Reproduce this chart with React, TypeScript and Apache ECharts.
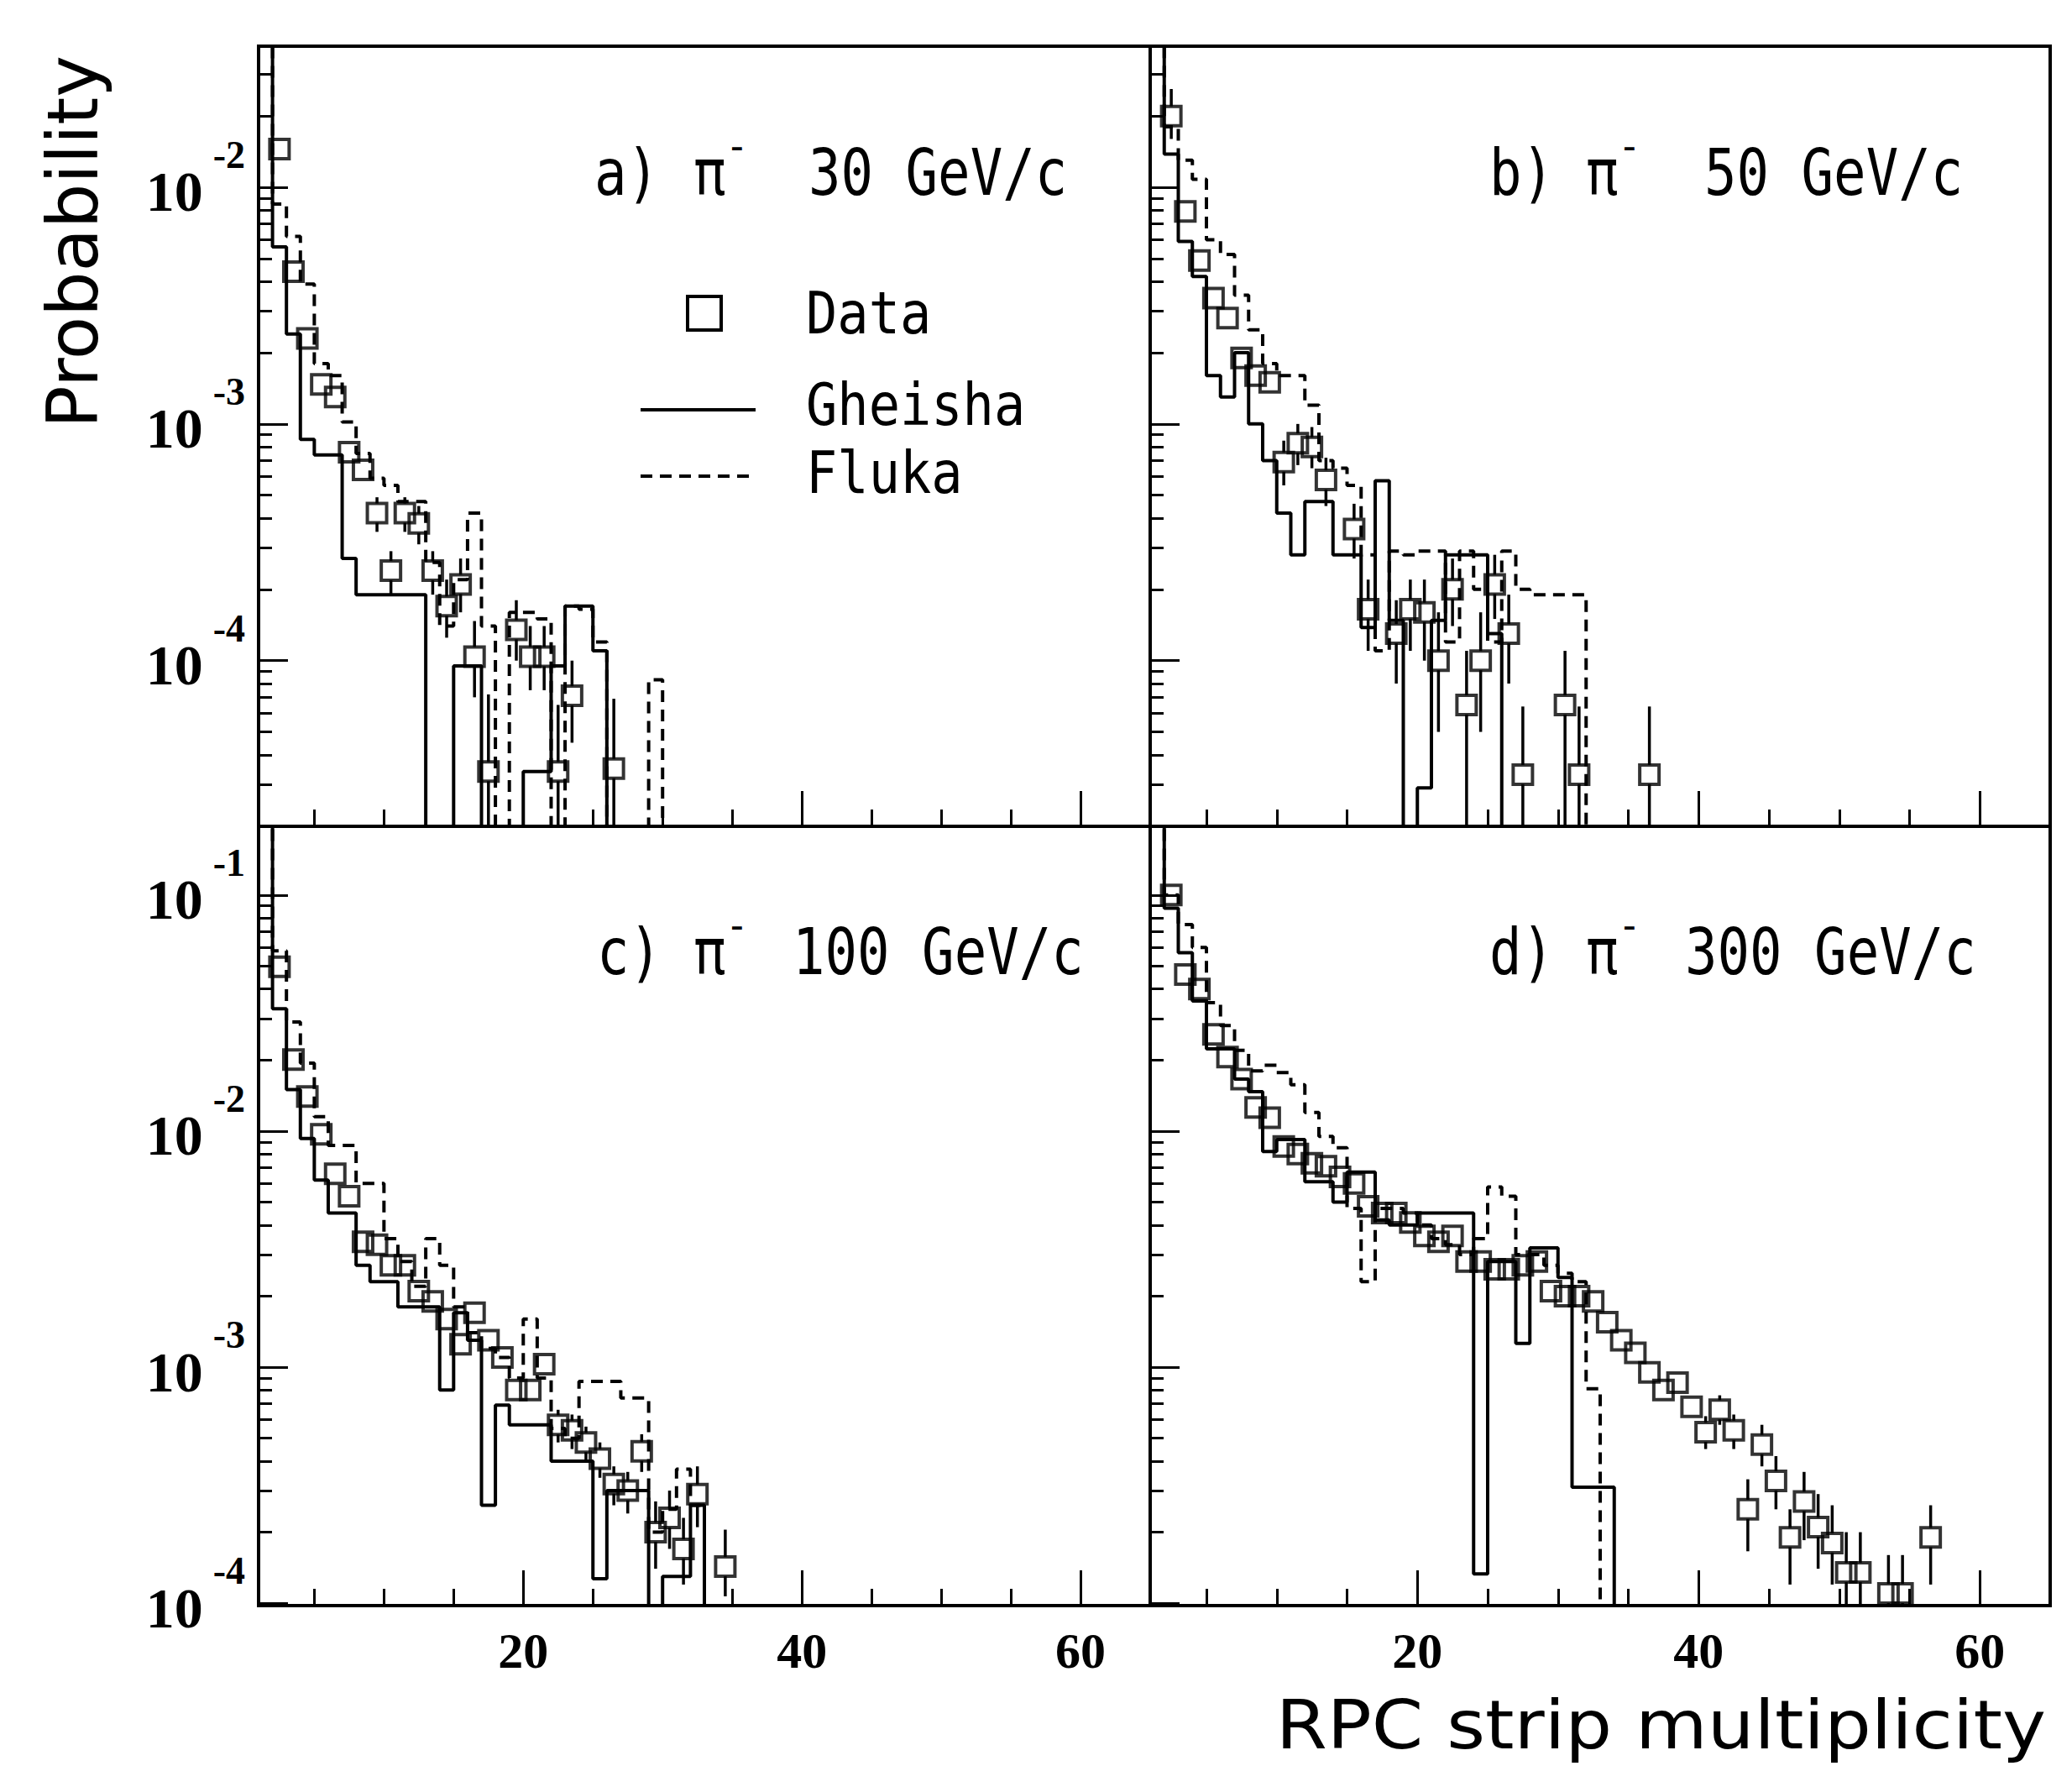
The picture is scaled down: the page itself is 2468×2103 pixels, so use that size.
import React, { useEffect, useRef } from 'react';
import * as echarts from 'echarts';

// ---------------- data (probabilities per multiplicity bin) ----------------
// Histograms: value of bin n (n = 1, 2, ...) spanning [n, n+1]
const GHEISHA_A = [0.06, 0.0056, 0.0024, 0.00086, 0.00074, 0.00074, 0.00027, 0.00019, 0.00019, 0.00019, 0.00019, 0.00019, 0, 0, 0.000095, 0.000095, 0, 0, 0, 0.000034, 0.000034, 0.000095, 0.00017, 0.00017, 0.00011];
const FLUKA_A = [0.05, 0.0085, 0.0062, 0.0039, 0.0018, 0.0016, 0.00102, 0.00075, 0.00059, 0.00055, 0.00047, 0.00047, 0.00026, 0.00014, 0.00022, 0.00042, 0.00014, 0, 0.00016, 0.00016, 0.00015, 0, 0.00017, 0.000165, 0.00012, 0, 0, 0, 0.000083];
const DATA_A_BINS = [2, 3, 4, 5, 6, 7, 8, 9, 10, 11, 12, 13, 14, 15, 16, 17, 19, 20, 21, 22, 23, 26];
const DATA_A_VALS = [0.0145, 0.0044, 0.0023, 0.00147, 0.0013, 0.00076, 0.00064, 0.00042, 0.00024, 0.00042, 0.00038, 0.00024, 0.00017, 0.00021, 0.000104, 0.000034, 0.000135, 0.000104, 0.000104, 0.000034, 0.000071, 0.000035];
const ERR_A_BINS = [9, 10, 11, 12, 13, 14, 15, 16, 17, 19, 20, 21, 22, 23, 26];
const ERR_A_LO = [0.00035, 0.00019, 0.00035, 0.00031, 0.00019, 0.000125, 0.00016, 0.00007, 0, 0.0001, 0.000075, 0.000075, 0, 0.000045, 0];
const ERR_A_HI = [0.00049, 0.00029, 0.00049, 0.00045, 0.00029, 0.00022, 0.00027, 0.000147, 0.000072, 0.00018, 0.00014, 0.00014, 0.000065, 0.0001, 0.000069];

const GHEISHA_B = [0.06, 0.0138, 0.0059, 0.0042, 0.0016, 0.0013, 0.002, 0.001, 0.0007, 0.00042, 0.00028, 0.00047, 0.00047, 0.00028, 0.00028, 0.000138, 0.000575, 0.000148, 0, 0.000029, 0.000148, 0.00028, 0.00028, 0.00028, 0.00013];
const FLUKA_B = [0.05, 0.018, 0.013, 0.0108, 0.006, 0.0052, 0.0035, 0.0025, 0.0018, 0.0016, 0.0016, 0.0012, 0.0007, 0.00065, 0.00055, 0.00028, 0.00011, 0.00029, 0.00028, 0.00029, 0.00029, 0.00012, 0.00029, 0.0002, 0.00012, 0.00029, 0.0002, 0.00019, 0.00019, 0.00019, 0.00019];
const DATA_B_BINS = [2, 3, 4, 5, 6, 7, 8, 9, 10, 11, 12, 13, 15, 16, 18, 19, 20, 21, 22, 23, 24, 25, 26, 27, 30, 31, 36];
const DATA_B_VALS = [0.02, 0.0079, 0.0049, 0.0034, 0.0028, 0.0019, 0.0016, 0.0015, 0.00069, 0.00083, 0.0008, 0.00058, 0.00036, 0.000165, 0.00013, 0.000165, 0.00016, 0.0001, 0.0002, 0.000065, 0.0001, 0.00021, 0.00013, 0.000033, 0.000065, 0.000033, 0.000033];
const ERR_B_BINS = [2, 10, 11, 12, 13, 15, 16, 18, 19, 20, 21, 22, 23, 24, 25, 26, 27, 30, 31, 36];
const ERR_B_LO = [0.016, 0.00055, 0.00067, 0.00065, 0.00045, 0.00027, 0.00011, 0.00008, 0.00011, 0.0001, 0.00005, 0.00014, 0.00002, 0.00005, 0.00015, 0.00008, 0, 0.00002, 0, 0];
const ERR_B_HI = [0.026, 0.00085, 0.001, 0.00097, 0.00072, 0.00046, 0.00022, 0.00018, 0.00022, 0.00022, 0.00016, 0.00027, 0.00011, 0.00016, 0.00028, 0.00019, 0.000064, 0.00011, 0.000064, 0.000064];

const GHEISHA_C = [0.2, 0.033, 0.015, 0.0093, 0.0062, 0.0045, 0.0045, 0.0027, 0.0023, 0.0023, 0.0018, 0.0018, 0.0018, 0.0008, 0.0017, 0.0013, 0.00026, 0.00069, 0.00057, 0.00057, 0.00057, 0.0004, 0.0004, 0.0004, 0.000127, 0.0003, 0.0003, 0.0003, 0, 0.00013, 0.00013, 0.00026];
const FLUKA_C = [0.2, 0.058, 0.029, 0.0194, 0.0115, 0.0087, 0.0087, 0.006, 0.006, 0.0035, 0.0028, 0.0022, 0.0035, 0.0027, 0.0018, 0.0014, 0.0012, 0.0011, 0.0009, 0.0016, 0.0009, 0.00055, 0.0005, 0.00087, 0.00087, 0.00087, 0.00074, 0.00074, 0.0002, 0.00025, 0.00037, 0.00026];
const DATA_C_BINS = [2, 3, 4, 5, 6, 7, 8, 9, 10, 11, 12, 13, 14, 15, 16, 17, 18, 19, 20, 21, 22, 23, 24, 25, 26, 27, 28, 29, 30, 31, 32, 34];
const DATA_C_VALS = [0.0497, 0.0201, 0.014, 0.0097, 0.0066, 0.0053, 0.0034, 0.0033, 0.0027, 0.0027, 0.0021, 0.0019, 0.0016, 0.00125, 0.0017, 0.0013, 0.0011, 0.0008, 0.0008, 0.00103, 0.00057, 0.00054, 0.00048, 0.00041, 0.00032, 0.0003, 0.00044, 0.0002, 0.00023, 0.00017, 0.00029, 0.000143];
const ERR_C_BINS = [22, 23, 24, 25, 26, 27, 28, 29, 30, 31, 32, 34];
const ERR_C_LO = [0.00048, 0.00045, 0.0004, 0.00034, 0.00026, 0.00024, 0.00036, 0.00014, 0.00017, 0.00012, 0.00021, 0.000107];
const ERR_C_HI = [0.00066, 0.00063, 0.00056, 0.00048, 0.00038, 0.00036, 0.00052, 0.00027, 0.0003, 0.00023, 0.00038, 0.000205];

const GHEISHA_D = [0.2, 0.088, 0.057, 0.0356, 0.0223, 0.0223, 0.0166, 0.0147, 0.0082, 0.0092, 0.0092, 0.0061, 0.0061, 0.005, 0.0067, 0.0067, 0.0042, 0.004, 0.004, 0.0045, 0.0045, 0.0045, 0.0045, 0.000133, 0.0028, 0.0028, 0.00126, 0.0032, 0.0032, 0.0024, 0.00031, 0.00031, 0.00031];
const FLUKA_D = [0.2, 0.1, 0.075, 0.06, 0.035, 0.028, 0.022, 0.018, 0.019, 0.0177, 0.0157, 0.012, 0.0095, 0.0085, 0.0047, 0.0023, 0.0047, 0.0047, 0.0045, 0.004, 0.0035, 0.0033, 0.003, 0.0035, 0.0058, 0.0053, 0.003, 0.003, 0.0027, 0.0025, 0.0023, 0.00081];
const DATA_D_BINS = [2, 3, 4, 5, 6, 7, 8, 9, 10, 11, 12, 13, 14, 15, 16, 17, 18, 19, 20, 21, 22, 23, 24, 25, 26, 27, 28, 29, 30, 31, 32, 33, 34, 35, 36, 37, 38, 39, 40, 41, 42, 43, 44, 45, 46, 47, 48, 49, 50, 51, 53, 54, 56];
const DATA_D_VALS = [0.1, 0.046, 0.04, 0.0257, 0.0206, 0.0166, 0.0126, 0.0114, 0.0086, 0.008, 0.0073, 0.0071, 0.0064, 0.006, 0.0048, 0.0045, 0.0045, 0.0041, 0.0036, 0.0034, 0.0036, 0.0028, 0.0028, 0.0026, 0.0026, 0.0027, 0.0028, 0.0021, 0.002, 0.002, 0.0019, 0.00155, 0.0013, 0.00115, 0.00095, 0.0008, 0.00086, 0.00068, 0.00053, 0.00066, 0.00054, 0.00025, 0.00047, 0.00033, 0.00019, 0.00027, 0.00021, 0.00018, 0.000135, 0.000135, 0.00011, 0.00011, 0.00019];
const ERR_D_BINS = [40, 41, 42, 43, 44, 45, 46, 47, 48, 49, 50, 51, 53, 54, 56];
const ERR_D_LO = [0.00045, 0.00057, 0.00045, 0.000166, 0.00038, 0.00025, 0.00012, 0.000185, 0.00014, 0.00012, 0, 0, 0, 0, 0.00012];
const ERR_D_HI = [0.00062, 0.00076, 0.00063, 0.000335, 0.00057, 0.00042, 0.00025, 0.00036, 0.00029, 0.00026, 0.0002, 0.0002, 0.00016, 0.00016, 0.00026];

// ticks
const X_MAJOR_TICKS = [20, 40, 60];
const X_MINOR_TICKS = [5, 10, 15, 25, 30, 35, 45, 50, 55];
const Y_MAJOR_TOP = [-4, -3, -2]; // exponents of 10
const Y_MAJOR_BOTTOM = [-4, -3, -2, -1];
const MINOR_MANTISSAS = [2, 3, 4, 5, 6, 7, 8, 9];

const LOG_FLOOR = -8;
const lg = (v: number) => (v > 0 ? Math.log10(v) : LOG_FLOOR);

function minorTicks(min: number, max: number) {
  const out: number[] = [];
  for (let n = Math.floor(min); n < Math.ceil(max); n++) {
    for (const k of MINOR_MANTISSAS) {
      const v = n + Math.log10(k);
      if (v > min && v < max) out.push(v);
    }
  }
  return out;
}

function histPoints(vals: number[]) {
  const pts = vals.map((v, i) => [i + 1, lg(v)]);
  pts.push([vals.length + 1, LOG_FLOOR]);
  return pts;
}

const PANELS = [
  {
    grid: { left: 308, top: 55, width: 1062, height: 929 }, yMin: -4.70, yMax: -1.404, majors: Y_MAJOR_TOP,
    showY: true, showX: false, gheisha: GHEISHA_A, fluka: FLUKA_A, bins: DATA_A_BINS, vals: DATA_A_VALS,
    eb: ERR_A_BINS, elo: ERR_A_LO, ehi: ERR_A_HI,
    title: { label: 'a)', energy: '30 GeV/c', x0: 708, xPi: 826, xE: 963, y: 205 },
  },
  {
    grid: { left: 1370, top: 55, width: 1072, height: 929 }, yMin: -4.70, yMax: -1.404, majors: Y_MAJOR_TOP,
    showY: false, showX: false, gheisha: GHEISHA_B, fluka: FLUKA_B, bins: DATA_B_BINS, vals: DATA_B_VALS,
    eb: ERR_B_BINS, elo: ERR_B_LO, ehi: ERR_B_HI,
    title: { label: 'b)', energy: '50 GeV/c', x0: 1774, xPi: 1889, xE: 2030, y: 205 },
  },
  {
    grid: { left: 308, top: 984, width: 1062, height: 928 }, yMin: -4.01, yMax: -0.709, majors: Y_MAJOR_BOTTOM,
    showY: true, showX: true, gheisha: GHEISHA_C, fluka: FLUKA_C, bins: DATA_C_BINS, vals: DATA_C_VALS,
    eb: ERR_C_BINS, elo: ERR_C_LO, ehi: ERR_C_HI,
    title: { label: 'c)', energy: '100 GeV/c', x0: 711, xPi: 826, xE: 944, y: 1133 },
  },
  {
    grid: { left: 1370, top: 984, width: 1072, height: 928 }, yMin: -4.01, yMax: -0.709, majors: Y_MAJOR_BOTTOM,
    showY: false, showX: true, gheisha: GHEISHA_D, fluka: FLUKA_D, bins: DATA_D_BINS, vals: DATA_D_VALS,
    eb: ERR_D_BINS, elo: ERR_D_LO, ehi: ERR_D_HI,
    title: { label: 'd)', energy: '300 GeV/c', x0: 1774, xPi: 1889, xE: 2007, y: 1133 },
  },
];

const SERIF = 'Liberation Serif';
const MONO = 'DejaVu Sans Mono';
const SANS = 'DejaVu Sans';
const HALF_SQ = 11.5;

function buildOption() {
  const grid: any[] = [];
  const xAxis: any[] = [];
  const yAxis: any[] = [];
  const series: any[] = [];
  const graphic: any[] = [];

  PANELS.forEach((p, i) => {
    grid.push({ ...p.grid, show: true, borderColor: '#000', borderWidth: 4, backgroundColor: 'transparent' });
    const xBase = { type: 'value', gridIndex: i, min: 1, max: 65, position: 'bottom', axisLine: { show: false }, splitLine: { show: false } };
    xAxis.push({ ...xBase, axisTick: { show: true, inside: true, length: 20, customValues: X_MINOR_TICKS, lineStyle: { color: '#000', width: 3 } }, axisLabel: { show: false } });
    xAxis.push({
      ...xBase,
      axisTick: { show: true, inside: true, length: 42, customValues: X_MAJOR_TICKS, lineStyle: { color: '#000', width: 3 } },
      axisLabel: { show: p.showX, customValues: X_MAJOR_TICKS, margin: 24, lineHeight: 60, color: '#000', fontFamily: SERIF, fontWeight: 'bold', fontSize: 60 },
    });
    const yBase = { type: 'value', gridIndex: i, min: p.yMin, max: p.yMax, position: 'left', axisLine: { show: false }, splitLine: { show: false } };
    yAxis.push({ ...yBase, axisTick: { show: true, inside: true, length: 16, customValues: minorTicks(p.yMin, p.yMax), lineStyle: { color: '#000', width: 3 } }, axisLabel: { show: false } });
    yAxis.push({
      ...yBase,
      axisTick: { show: true, inside: true, length: 35, customValues: p.majors, lineStyle: { color: '#000', width: 3 } },
      axisLabel: {
        show: p.showY, customValues: p.majors, margin: 16, padding: [13, 0, 0, 0],
        formatter: (v: number) => '{b|10}{s|' + Math.round(v) + '}',
        rich: {
          b: { fontFamily: SERIF, fontWeight: 'bold', fontSize: 68, color: '#000', verticalAlign: 'bottom', lineHeight: 66 },
          s: { fontFamily: SERIF, fontWeight: 'bold', fontSize: 46, color: '#000', verticalAlign: 'bottom', lineHeight: 46, padding: [0, 0, 55, 12] },
        },
      },
    });
    const xi = 2 * i + 1;
    const yi = 2 * i + 1;
    series.push({
      name: 'Gheisha', type: 'line', step: 'end', xAxisIndex: xi, yAxisIndex: yi, showSymbol: false, symbol: 'none', clip: true,
      data: histPoints(p.gheisha), lineStyle: { color: '#000', width: 4, type: 'solid' }, z: 2,
    });
    series.push({
      name: 'Fluka', type: 'line', step: 'end', xAxisIndex: xi, yAxisIndex: yi, showSymbol: false, symbol: 'none', clip: true,
      data: histPoints(p.fluka), lineStyle: { color: '#000', width: 4, type: [14, 9] }, z: 2,
    });
    series.push({
      name: 'Data errors', type: 'custom', xAxisIndex: xi, yAxisIndex: yi, z: 4, clip: true,
      data: p.eb.map((b, k) => {
        const idx = p.bins.indexOf(b);
        return [b + 0.5, lg(p.elo[k]), lg(p.ehi[k]), lg(p.vals[idx])];
      }),
      encode: { x: 0, y: [1, 2, 3] },
      renderItem: (params: any, api: any) => {
        const x = api.value(0);
        const cs = params.coordSys;
        const bottom = cs.y + cs.height;
        const lo = api.coord([x, api.value(1)]);
        const hi = api.coord([x, api.value(2)]);
        const c = api.coord([x, api.value(3)]);
        const children: any[] = [];
        const loY = Math.min(lo[1], bottom);
        if (loY > c[1] + HALF_SQ) children.push({ type: 'line', shape: { x1: c[0], y1: c[1] + HALF_SQ, x2: c[0], y2: loY }, style: { stroke: '#000', lineWidth: 3.5 } });
        if (hi[1] < c[1] - HALF_SQ) children.push({ type: 'line', shape: { x1: c[0], y1: c[1] - HALF_SQ, x2: c[0], y2: hi[1] }, style: { stroke: '#000', lineWidth: 3.5 } });
        return { type: 'group', children };
      },
    });
    series.push({
      name: 'Data', type: 'scatter', xAxisIndex: xi, yAxisIndex: yi, symbol: 'rect', symbolSize: 2 * HALF_SQ, z: 5,
      data: p.bins.map((b, k) => [b + 0.5, lg(p.vals[k])]),
      itemStyle: { color: 'rgba(255,255,255,0)', borderColor: '#000', borderWidth: 4 },
    });

    const t = p.title;
    const ts = { fontFamily: MONO, fontSize: 64, fill: '#000', verticalAlign: 'middle', align: 'left' };
    graphic.push({ type: 'text', x: t.x0, y: t.y, scaleY: 1.2, style: { ...ts, text: t.label } });
    graphic.push({ type: 'text', x: t.xPi, y: t.y, scaleY: 1.2, style: { ...ts, text: 'π' } });
    graphic.push({ type: 'text', x: t.xPi + 38, y: t.y - 31, style: { ...ts, fontSize: 46, text: '-' } });
    graphic.push({ type: 'text', x: t.xE, y: t.y, scaleY: 1.2, style: { ...ts, text: t.energy } });
  });

  // legend
  const ls = { fontFamily: MONO, fontSize: 62, fill: '#000', verticalAlign: 'middle', align: 'left' };
  graphic.push({ type: 'rect', shape: { x: 819, y: 353, width: 40, height: 40 }, style: { fill: 'none', stroke: '#000', lineWidth: 4 } });
  graphic.push({ type: 'text', x: 960, y: 373, scaleY: 1.12, style: { ...ls, text: 'Data' } });
  graphic.push({ type: 'line', shape: { x1: 763, y1: 488, x2: 900, y2: 488 }, style: { stroke: '#000', lineWidth: 4 } });
  graphic.push({ type: 'text', x: 960, y: 482, scaleY: 1.12, style: { ...ls, text: 'Gheisha' } });
  graphic.push({ type: 'line', shape: { x1: 763, y1: 567, x2: 900, y2: 567 }, style: { stroke: '#000', lineWidth: 4, lineDash: [14, 9] } });
  graphic.push({ type: 'text', x: 960, y: 563, scaleY: 1.12, style: { ...ls, text: 'Fluka' } });

  // axis titles
  graphic.push({ type: 'text', x: 87, y: 288, rotation: Math.PI / 2, style: { text: 'Probability', fontFamily: SANS, fontSize: 84, fill: '#000', align: 'center', verticalAlign: 'middle' } });
  graphic.push({ type: 'text', x: 2437, y: 2054, scaleX: 1.1, style: { text: 'RPC strip multiplicity', fontFamily: SANS, fontSize: 80, lineHeight: 90, fill: '#000', align: 'right', verticalAlign: 'middle' } });

  return { animation: false, backgroundColor: '#fff', grid, xAxis, yAxis, series, graphic };
}

export default function App() {
  const ref = useRef<HTMLDivElement>(null);
  useEffect(() => {
    const chart = echarts.init(ref.current as HTMLDivElement, null, { renderer: 'svg' });
    chart.setOption(buildOption() as any);
    return () => chart.dispose();
  }, []);
  return <div ref={ref} style={{ position: 'fixed', left: 0, top: 0, width: 2468, height: 2103, background: '#fff' }} />;
}
